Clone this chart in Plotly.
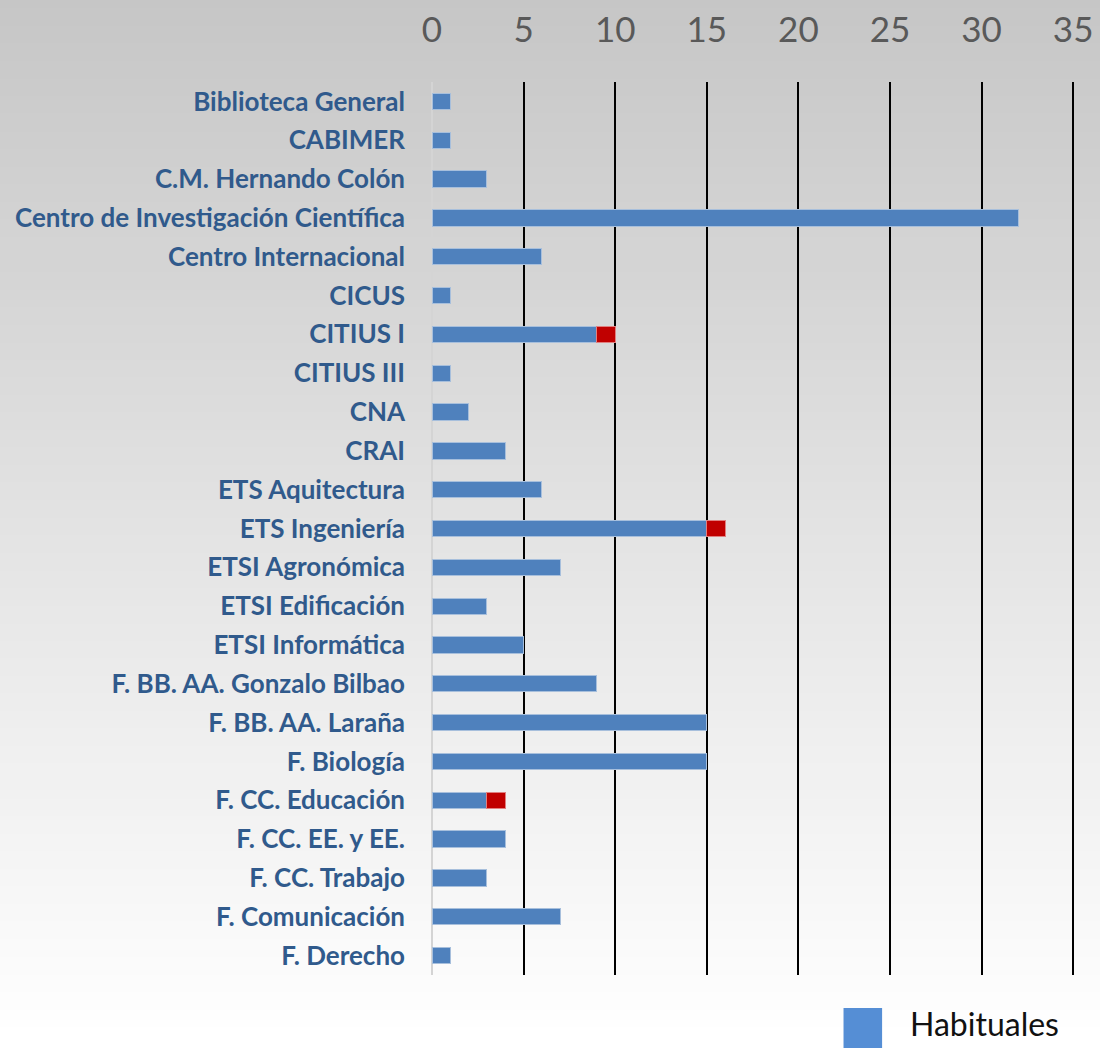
import plotly.graph_objects as go

categories = [
    "Biblioteca General", "CABIMER", "C.M. Hernando Colón",
    "Centro de Investigación Científica", "Centro Internacional", "CICUS",
    "CITIUS I", "CITIUS III", "CNA", "CRAI", "ETS Aquitectura",
    "ETS Ingeniería", "ETSI Agronómica", "ETSI Edificación",
    "ETSI Informática", "F. BB. AA. Gonzalo Bilbao", "F. BB. AA. Laraña",
    "F. Biología", "F. CC. Educación", "F. CC. EE. y EE.", "F. CC. Trabajo",
    "F. Comunicación", "F. Derecho",
]
habituales = [1, 1, 3, 32, 6, 1, 9, 1, 2, 4, 6, 15, 7, 3, 5, 9, 15, 15, 3, 4, 3, 7, 1]
otros = [None, None, None, None, None, None, 1, None, None, None, None, 1,
         None, None, None, None, None, None, 1, None, None, None, None]
x_ticks = [0, 5, 10, 15, 20, 25, 30, 35]

fig = go.Figure()
fig.add_trace(go.Bar(
    y=categories, x=habituales, orientation="h", name="Habituales",
    marker=dict(color="#4f81bd", line=dict(color="#a7bfdc", width=1)),
    showlegend=False,
))
fig.add_trace(go.Bar(
    y=categories, x=otros, orientation="h", name="Esporádicos",
    marker=dict(color="#c00000", line=dict(color="#e08080", width=1)),
    showlegend=False,
))

# gradient background (grey at top to white at bottom)
n = 60
top = (198, 198, 198)
shapes = []
for i in range(n):
    t = i / (n - 1)
    c = tuple(int(round(top[k] + (255 - top[k]) * t)) for k in range(3))
    y1 = 1 - i / n
    y0 = 1 - (i + 1) / n
    shapes.append(dict(type="rect", xref="paper", yref="paper",
                       x0=-1, x1=2, y0=-0.08 + y0 * 1.18, y1=-0.08 + y1 * 1.18 + 0.002,
                       fillcolor="rgb(%d,%d,%d)" % c, line=dict(width=0),
                       layer="below"))

# legend swatch (visual legend)
shapes.append(dict(type="rect", xref="paper", yref="paper",
                   x0=0.64, x1=0.7, y0=-0.085, y1=-0.037,
                   fillcolor="#558ed5", line=dict(width=0)))

fig.update_layout(
    width=1100, height=1048,
    margin=dict(l=432, r=25, t=82, b=73),
    paper_bgcolor="white", plot_bgcolor="rgba(0,0,0,0)",
    barmode="stack", bargap=0.58,
    shapes=shapes,
    annotations=[dict(text="Habituales", xref="paper", yref="paper",
                      x=0.74, y=-0.054, xanchor="left", yanchor="middle",
                      showarrow=False, font=dict(size=32, color="#111111",
                                                 family="Lato"))],
    xaxis=dict(side="top", range=[0, 35.1], tickvals=x_ticks,
               showgrid=True, gridcolor="black", gridwidth=2,
               zeroline=True, zerolinecolor="#d4d4d4", zerolinewidth=2,
               tickfont=dict(size=35, color="#595959", family="Lato"),
               ticklabelstandoff=32, layer="above traces", fixedrange=True,
               automargin=False),
    yaxis=dict(autorange="reversed", showgrid=False, zeroline=False,
               tickfont=dict(size=26, color="#305a8c", family="Lato"),
               ticklabelstandoff=26, fixedrange=True, automargin=False),
    font=dict(family="Lato"),
)
fig.update_yaxes(tickfont_weight="bold")

fig.write_html("out.html", config={"displayModeBar": False},
               post_script="document.body.style.margin='0';")
